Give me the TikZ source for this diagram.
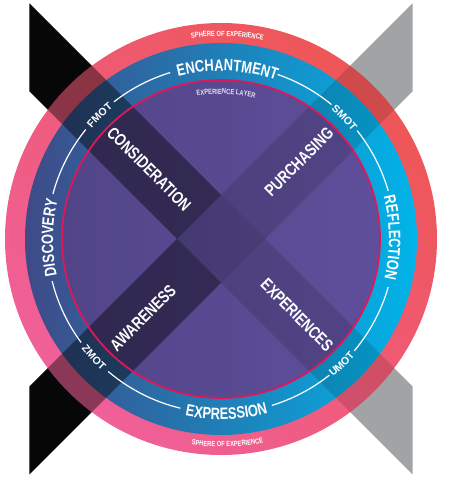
\documentclass[tikz,border=0pt]{standalone}
\usepackage{fontspec}
\setmainfont{Liberation Sans}
\newfontfamily\condf[FakeStretch=0.78]{Liberation Sans}
\usetikzlibrary{decorations.text}
\definecolor{pinkc}{HTML}{F0609A}
\definecolor{redc}{HTML}{EE5656}
\definecolor{blA}{HTML}{3F4A87}
\definecolor{blB}{HTML}{1D7DB8}
\definecolor{blC}{HTML}{00B4E9}
\definecolor{puA}{HTML}{514588}
\definecolor{puB}{HTML}{5F4F9B}
\definecolor{magc}{HTML}{E0155A}
\definecolor{blackc}{HTML}{070707}
\definecolor{grayc}{HTML}{A2A3A5}
\definecolor{layc}{HTML}{E4E0F2}
\newcommand\bigring{\condf\bfseries\fontsize{16.5}{16.5}\selectfont}
\newcommand\smallring{\condf\bfseries\fontsize{7.4}{7.4}\selectfont}
\newcommand\motf{\bfseries\fontsize{10.5}{10.5}\selectfont}
\tikzset{
  inlab/.style={text=white, font=\condf\bfseries\fontsize{17}{17}\selectfont, inner sep=0pt},
  whitearc/.style={draw=white, line width=1.2pt},
  ringtext/.style={decorate, decoration={text along path, text align=center, text color=white, text={#1}}},
  laytext/.style={decorate, decoration={text along path, text align=center, text color=layc, text={#1}}}
}
\begin{document}
\begin{tikzpicture}[x=1pt,y=1pt]
\useasboundingbox (-221,-245) rectangle (229,239);
% outer arms of the X
\path[fill=blackc] (-191.5,235.5) -- (0,44) -- (-44,0) -- (-191.5,147.5) -- cycle;
\path[fill=blackc] (-191.5,-147.5) -- (-44,0) -- (0,-44) -- (-191.5,-235.5) -- cycle;
\path[fill=grayc] (191.5,235.5) -- (191.5,147.5) -- (44,0) -- (0,44) -- cycle;
\path[fill=grayc] (191.5,-147.5) -- (44,0) -- (0,-44) -- (191.5,-235.5) -- cycle;
% rings
\shade[left color=pinkc, right color=redc, shading angle=135] (0,0) circle[radius=216];
\shade[left color=blA, middle color=blB, right color=blC] (0,0) circle[radius=196];
\shade[left color=puA, right color=puB] (0,0) circle[radius=159];
% overlays of the X
\begin{scope}
\clip (0,0) circle[radius=216];
\fill[black, opacity=0.42] (-191.5,235.5) -- (0,44) -- (-44,0) -- (-191.5,147.5) -- cycle;
\fill[black, opacity=0.42] (-191.5,-147.5) -- (-44,0) -- (0,-44) -- (-191.5,-235.5) -- cycle;
\fill[black, opacity=0.13] (191.5,235.5) -- (191.5,147.5) -- (44,0) -- (0,44) -- cycle;
\fill[black, opacity=0.13] (191.5,-147.5) -- (44,0) -- (0,-44) -- (191.5,-235.5) -- cycle;
\fill[black, opacity=0.2] (0,44) -- (44,0) -- (0,-44) -- (-44,0) -- cycle;
\end{scope}
\draw[magc, line width=1.8pt] (0,0) circle[radius=159];
% white arc segments
\foreach \a/\b in {16/38.5, 50.6/71, 107/128, 141/165, 194/216.5, 229.6/256.5, 287/308.5, 320/344}
  \draw[whitearc] (\a:174) arc[start angle=\a, end angle=\b, radius=174];
% ring words
\path[ringtext={|\bigring|ENCHANTMENT}] (132.8:168) arc[start angle=132.8, end angle=42.8, radius=168];
\path[ringtext={|\bigring|EXPRESSION}] (226.8:180.5) arc[start angle=226.8, end angle=316.8, radius=180.5];
\path[ringtext={|\bigring|DISCOVERY}] (224.5:168) arc[start angle=224.5, end angle=134.5, radius=168];
\path[ringtext={|\bigring|REFLECTION}] (45.5:168) arc[start angle=45.5, end angle=-44.5, radius=168];
\path[ringtext={|\motf|FMOT}] (154.5:170) arc[start angle=154.5, end angle=114.5, radius=170];
\path[ringtext={|\motf|SMOT}] (64.5:170) arc[start angle=64.5, end angle=24.5, radius=170];
\path[ringtext={|\motf|ZMOT}] (203:177.5) arc[start angle=203, end angle=243, radius=177.5];
\path[ringtext={|\motf|UMOT}] (294:177.5) arc[start angle=294, end angle=334, radius=177.5];
\path[ringtext={|\smallring|SPHERE OF EXPERIENCE}] (118.2:203) arc[start angle=118.2, end angle=58.2, radius=203];
\path[ringtext={|\smallring|SPHERE OF EXPERIENCE}] (241.8:208) arc[start angle=241.8, end angle=301.8, radius=208];
\path[laytext={|\smallring|EXPERIENCE LAYER}] (123:145) arc[start angle=123, end angle=53, radius=145];
% inner words
\node[inlab, rotate=-45] (cons) at (-72,70) {CONSIDERATION};
\node[inlab, rotate=45] (purch) at (78,77) {PURCHASING};
\node[inlab, rotate=45] (aware) at (-78,-79) {AWARENESS};
\node[inlab, rotate=-45] (exper) at (76,-76) {EXPERIENCES};
\end{tikzpicture}
\end{document}
